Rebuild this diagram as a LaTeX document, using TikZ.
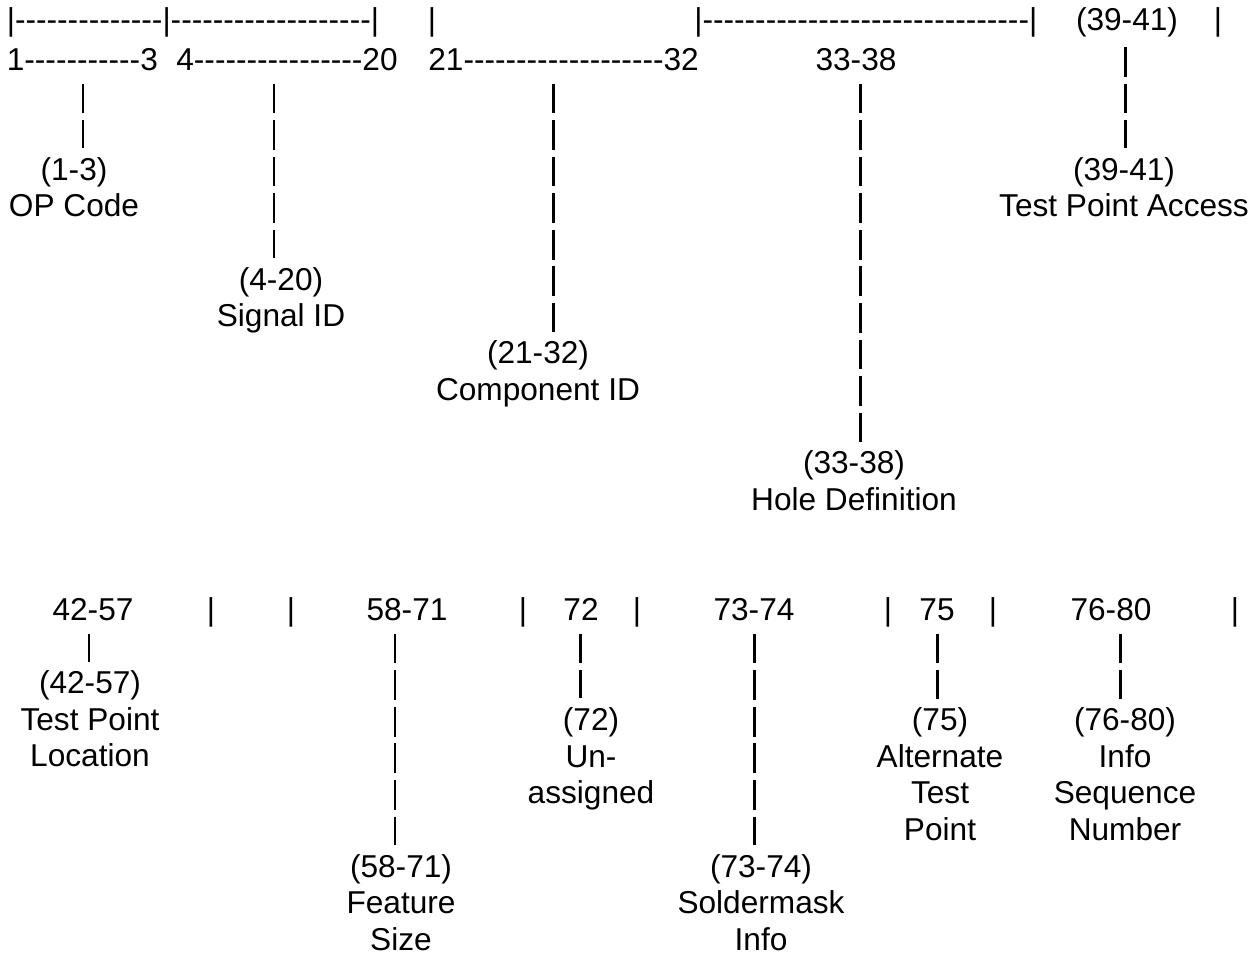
\documentclass[tikz,border=0pt]{standalone}
\usepackage{fontspec}
\setmainfont{Liberation Sans}[Ligatures=TeXOff]
\usetikzlibrary{positioning}
\newcommand{\dashrun}[1]{\foreach \k in {1,...,#1}{-}}

\begin{document}
\begin{tikzpicture}[
  x=0.02cm, y=-0.02cm,
  every node/.style={inner sep=0pt, font=\fontsize{18}{20.79}\selectfont},
  ruler/.style={anchor=base west},
  num/.style={anchor=base},
  fieldlbl/.style={anchor=base, align=center},
  stem/.style={line width=1.7pt, dash pattern=on 16.9pt off 3.9pt, shorten >=5pt}
]
  \useasboundingbox (0,0) rectangle (1260,955);

  % first card half: columns 1-41
  \node[ruler] (ra) at (6.5,31) {|\dashrun{14}|\dashrun{19}|};
  \node[num] (rb) at (432,31) {|};
  \node[ruler] (rc) at (694,31) {|\dashrun{31}|};
  \node[num] (acc) at (1127,31) {(39-41)};
  \node[num] (rd) at (1218,31) {|};

  \node[ruler] (op) at (6.5,70.2) {1\dashrun{11}3};
  \node[ruler] (sig) at (176,70.2) {4\dashrun{16}20};
  \node[ruler] (comp) at (428,70.2) {21\dashrun{19}32};
  \node[num] (hole) at (856,70.2) {33-38};

  % labels sit on the baseline of their last line
  \node[fieldlbl] (lop) at (74,216.8) {(1-3)\\OP Code};
  \node[fieldlbl] (lsig) at (281,326.9) {(4-20)\\Signal ID};
  \node[fieldlbl] (lcomp) at (538,400.2) {(21-32)\\Component ID};
  \node[fieldlbl] (lhole) at (854,510.2) {(33-38)\\Hole Definition};
  \node[fieldlbl] (lacc) at (1124,216.8) {(39-41)\\Test Point Access};

  \coordinate (t1) at (83,83.7);
  \coordinate (t2) at (274,83.7);
  \coordinate (t3) at (553,83.7);
  \coordinate (t4) at (860,83.7);
  \coordinate (t5) at (1125,47.1);
  \draw[stem] (t1) -- (t1 |- lop.north);
  \draw[stem] (t2) -- (t2 |- lsig.north);
  \draw[stem] (t3) -- (t3 |- lcomp.north);
  \draw[stem] (t4) -- (t4 |- lhole.north);
  \draw[stem] (t5) -- (t5 |- lacc.north);

  % second card half: columns 42-80
  \node[num] (loc) at (93,620.2) {42-57};
  \node[num] (b1) at (211,620.2) {|};
  \node[num] (b2) at (291,620.2) {|};
  \node[num] (size) at (407,620.2) {58-71};
  \node[num] (b3) at (523,620.2) {|};
  \node[num] (un) at (581,620.2) {72};
  \node[num] (b4) at (637,620.2) {|};
  \node[num] (sm) at (754,620.2) {73-74};
  \node[num] (b5) at (888,620.2) {|};
  \node[num] (alt) at (937,620.2) {75};
  \node[num] (b6) at (993,620.2) {|};
  \node[num] (seq) at (1111,620.2) {76-80};
  \node[num] (b7) at (1235,620.2) {|};

  \node[fieldlbl] (lloc) at (90,766.9) {(42-57)\\Test Point\\Location};
  \node[fieldlbl] (lsize) at (401,950.2) {(58-71)\\Feature\\Size};
  \node[fieldlbl] (lun) at (591,803.6) {(72)\\Un-\\assigned};
  \node[fieldlbl] (lsm) at (761,950.2) {(73-74)\\Soldermask\\Info};
  \node[fieldlbl] (lalt) at (940,840.2) {(75)\\Alternate\\Test\\Point};
  \node[fieldlbl] (lseq) at (1125,840.2) {(76-80)\\Info\\Sequence\\Number};

  \coordinate (u1) at (89,633.8);
  \coordinate (u2) at (395,633.8);
  \coordinate (u3) at (580,633.8);
  \coordinate (u4) at (754,633.8);
  \coordinate (u5) at (937,633.8);
  \coordinate (u6) at (1120,633.8);
  \draw[stem] (u1) -- (u1 |- lloc.north);
  \draw[stem] (u2) -- (u2 |- lsize.north);
  \draw[stem] (u3) -- (u3 |- lun.north);
  \draw[stem] (u4) -- (u4 |- lsm.north);
  \draw[stem] (u5) -- (u5 |- lalt.north);
  \draw[stem] (u6) -- (u6 |- lseq.north);
\end{tikzpicture}
\end{document}
